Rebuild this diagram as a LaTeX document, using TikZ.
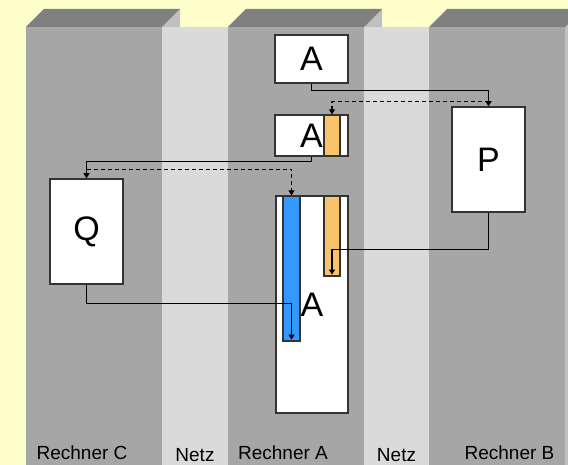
\documentclass[tikz,border=0pt]{standalone}
\usepackage{fontspec}
\setmainfont{Liberation Sans}
\usetikzlibrary{arrows.meta,positioning}

\definecolor{bgyellow}{HTML}{FFFFCC}
\definecolor{front}{HTML}{A6A6A6}
\definecolor{topface}{HTML}{808080}
\definecolor{sideface}{HTML}{C0C0C0}
\definecolor{netz}{HTML}{DADADA}
\definecolor{blau}{HTML}{3399FF}
\definecolor{orng}{HTML}{F7C46C}

\begin{document}
\begin{tikzpicture}[x=1pt, y=-1pt, >={Triangle[length=5pt,width=6pt]}]
    \tikzset{
        box/.style={draw=black!80, line width=1.5pt, fill=white, inner sep=0pt, font=\fontsize{34}{34}\selectfont},
        strip/.style={draw=black!80, line width=1.2pt, inner sep=0pt},
        a/.style={->, line width=1.2pt},
        ad/.style={a, dash pattern=on 4pt off 3pt},
        lbl/.style={anchor=base, font=\fontsize{19}{19}\selectfont}
    }

    \useasboundingbox (0,0) rectangle (568,465);
    \clip (0,0) rectangle (568,465);
    \fill[bgyellow] (0,0) rectangle (568,465);

    % the three computers as boxes
    \foreach \x in {26,228,429} {
        \fill[front] (\x,27) rectangle (\x+136,465);
        \fill[sideface] (\x+136,27) -- (\x+154,9) -- (\x+154,465) -- (\x+136,465) -- cycle;
        \fill[topface] (\x,27) -- (\x+18,9) -- (\x+154,9) -- (\x+136,27) -- cycle;
    }
    % network in between
    \fill[netz] (162,27) rectangle (228,465);
    \fill[netz] (364,27) rectangle (429,465);

    \node[box, minimum width=73pt, minimum height=48pt] (a1) at (311.5,59) {A};
    \node[box, minimum width=73pt, minimum height=41pt] (a2) at (311.5,135.5) {A};
        \node[strip, fill=orng, minimum width=16pt, minimum height=41pt] (o1) at (332,135.5) {};
    \node[box, minimum width=72pt, minimum height=217pt] (a3) at (312,304.5) {A};
        \node[strip, fill=blau, minimum width=17pt, minimum height=145pt] (blue) at (291.5,268.5) {};
        \node[strip, fill=orng, minimum width=16pt, minimum height=80pt] (o2) at (332,236) {};

    \node[box, minimum width=73pt, minimum height=105pt] (p) at (488.5,159.5) {P};
    \node[box, minimum width=73pt, minimum height=105pt] (q) at (86.5,231.5) {Q};

    \draw[a] (a1.south) -- ++(0,7) -| (p.north);
    \draw[ad] ([yshift=5pt]p.north) -| (o1.north);
    \draw[a] (a2.south) -- ++(0,5) -| (q.north);
    \draw[ad] ([yshift=9pt]q.north) -| (blue.north);
    \draw[a] (q.south) -- ++(0,19) -| ([yshift=2pt]blue.south);
    \draw[a] (p.south) -- ++(0,37) -| ([yshift=2pt]o2.south);

    \node[lbl] (rc) at (82,459) {Rechner C};
    \node[lbl] (n1) at (195,461) {Netz};
    \node[lbl] (ra) at (283,459) {Rechner A};
    \node[lbl] (n2) at (396.5,461) {Netz};
    \node[lbl] (rb) at (509.5,459) {Rechner B};
\end{tikzpicture}
\end{document}
